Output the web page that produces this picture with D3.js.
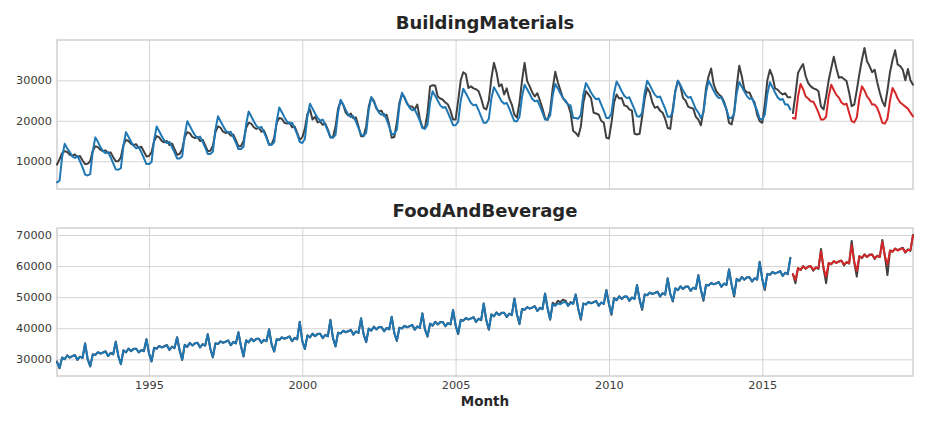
<!DOCTYPE html>
<html><head><meta charset="utf-8">
<script src="https://cdn.jsdelivr.net/npm/d3@7"></script>
<style>body{margin:0;background:#fff}svg{display:block}</style>
</head><body><svg id="c" width="929" height="433"></svg>
<script>
// Monthly data, Jan..Dec for each year from 1992 to 2019
const startYear = 1992;
const trainYears = 24; // 1992-2015 training, 2016-2019 test
const xTickYears = [1995, 2000, 2005, 2010, 2015];
const bmTicks = [10000, 20000, 30000];
const fbTicks = [30000, 40000, 50000, 60000, 70000];

const bmActual = [
[9200,10500,12000,12500,12300,11600,11400,11700,11000,11300,10200,9300],
[9400,10000,12600,13700,13500,12800,12500,12700,12000,12200,11000,10000],
[10000,11000,14000,15300,15000,14300,14000,14200,13300,13600,12400,11200],
[11300,12200,15000,16200,15900,15000,14700,15000,14000,14400,13000,11600],
[11800,13000,16000,17200,16900,16000,15700,16000,15000,15300,14000,12500],
[12600,13800,17200,18600,18300,17300,17000,17200,16300,16600,15200,13700],
[13700,15000,18200,19500,19300,18400,18000,18300,17300,17600,16000,14100],
[14200,15800,19600,20700,20500,19500,19300,19600,18400,18600,17000,15300],
[15900,18000,21700,22800,20300,21000,19600,19800,19000,19300,17800,15900],
[16000,18500,23000,24800,24000,22000,21300,21800,20600,20800,18600,16200],
[16200,18600,23500,25800,25000,23000,22300,22500,21200,21500,19000,15800],
[16000,19500,24500,26500,25800,24200,23500,23500,22800,24000,20500,18400],
[18200,22000,28500,28800,28700,26000,25500,25200,24500,24000,22500,20300],
[20300,25000,30000,32000,31500,28100,28500,28000,27800,27300,25500,23200],
[22800,25000,30500,34300,32000,28500,29000,26500,28000,25500,24000,21500],
[20800,24500,30000,34300,29800,28500,27000,26000,26800,25000,23000,20700],
[20200,22500,28000,32100,29500,27500,25600,24800,24000,22000,17500,17000],
[16200,18500,24500,27300,26500,25600,22000,21800,21500,20000,19500,15800],
[15600,19500,24500,26500,25500,25600,23800,23600,22800,22500,16800,16600],
[16800,21000,25500,28100,27000,24500,23200,23500,22500,22000,20500,18200],
[18000,23000,27500,29900,28500,25600,25000,23500,23200,23000,21000,20300],
[18900,22500,28000,31000,32900,29000,27300,26500,26000,24800,22800,19500],
[19100,22000,28500,33600,31000,27700,27000,27000,25500,24500,21500,19900],
[19500,24000,30000,32600,31000,28000,27700,27000,26500,26800,25800,25800],
[21900,26500,31800,33000,34000,31000,29300,28500,28000,27800,27300,23500],
[22800,26000,30000,33000,35800,33000,30600,30800,30300,29800,27000,23600],
[24000,27500,31500,35000,38000,34700,33500,32000,32600,29500,27000,24800],
[23600,27500,32000,35000,37400,33900,33500,32600,30000,32800,30000,28900]
];

const bmFit = [
[4800,5200,11000,14300,13200,12300,11200,10800,11300,10000,8500,6700],
[6500,6800,12500,15900,14800,13500,12500,12000,12300,11000,9500,8000],
[7900,8300,13800,17200,16000,14800,13800,13200,13500,12200,10800,9300],
[9300,9800,15200,18600,17400,16200,15100,14500,14800,13500,12200,10700],
[10700,11200,16500,19900,18700,17500,16400,15800,16100,14800,13400,11800],
[11800,12400,17800,21100,19900,18700,17600,17000,17300,16000,14600,13000],
[13000,13600,19000,22300,21100,19900,18800,18200,18500,17200,15700,14100],
[14100,14700,20000,23300,22100,20900,19800,19200,19500,18200,16700,14800],
[14500,15500,21000,24200,23000,21800,20700,20000,20300,19000,17500,15900],
[15800,16500,22000,25200,24000,22700,21500,20900,21100,19800,18200,16600],
[16300,17000,22700,25800,24600,23300,22000,21500,21700,20300,18600,16600],
[16800,17800,23700,26900,25700,24400,23200,22600,22800,21500,20000,18200],
[18000,19000,24500,27300,26200,25000,23800,23200,23400,22000,20500,18900],
[18900,19800,25000,27900,26800,25600,24400,23800,24000,22600,21000,19500],
[19500,20500,25500,28300,27200,26000,24800,24200,24400,23000,21400,19900],
[19900,21000,26000,28900,27800,26600,25400,24800,25000,23600,22000,20300],
[20300,21300,26300,29100,28000,26800,25600,25000,24000,23800,20700,20700],
[20500,21500,26500,29300,28200,27000,26000,25300,25500,24000,22500,20700],
[20700,21800,26800,29700,28600,27300,26200,25600,25800,24300,22800,21100],
[21000,22000,27000,29900,28800,27500,26400,25800,26000,24500,23000,21000],
[21000,22200,27200,29900,28800,27500,26400,25700,25900,24400,22900,22000],
[20700,22000,27000,29900,28700,27400,26300,25600,25800,24300,22800,20700],
[20700,21800,26800,29600,28400,27200,26100,25400,25600,24000,22500,20500],
[20300,21500,26600,29500,28300,27000,25800,25200,25400,24000,24000,22800]
];

const bmPred = [
[20700,20500,26000,29100,27800,26000,25500,24800,24700,23500,22000,20300],
[20300,21000,26000,28900,27600,26400,25700,24500,24000,24200,22000,19900],
[19600,20800,25500,28500,27500,26000,25200,24000,24000,23200,21500,19500],
[19300,20500,25000,28100,27000,25500,24500,24000,23500,23000,22000,21100]
];

const fbActual = [
[29300,27100,30600,30000,31300,30500,31000,31400,29800,30900,30400,35200],
[30000,27700,31600,31400,32300,31800,32200,32600,31000,32100,31600,35700],
[31000,28400,32900,32200,33500,32600,33400,33400,32200,33000,32600,36500],
[31900,29300,33700,33400,34300,33800,34200,34600,33000,34100,33600,37100],
[32800,29800,34700,34000,35300,34400,35200,35300,33800,34900,34400,38100],
[33400,30600,35200,34900,35800,35300,35700,36100,34500,35600,35100,38700],
[34200,30900,36100,35400,36700,35800,36600,36600,35300,36300,35800,39700],
[34700,32500,36500,36200,37100,36600,37000,37400,35800,36900,36400,42100],
[35800,33300,37700,37000,38300,37400,38200,38200,36800,37900,37400,42700],
[36800,34100,38600,38300,39200,38700,39100,39500,37900,39000,38500,43200],
[38000,35500,39900,39200,40500,39600,40400,40400,39000,40100,39600,43700],
[38400,35900,40200,39900,40800,40300,40700,41100,39500,40600,40100,44800],
[39600,37300,41500,40800,42100,41200,42000,42000,40600,41700,41200,45900],
[40900,38100,42700,42400,43300,42800,43200,43600,42000,43100,42600,48000],
[42600,39500,44500,43800,45100,44200,45000,45000,43600,44700,44200,49600],
[44400,41300,46200,45900,46800,46300,46700,47100,45500,46600,46100,51200],
[46300,42700,48200,47500,48800,48400,49200,48900,47300,48400,47900,50900],
[46100,42700,48000,47600,48500,48000,48400,48800,47200,48300,47800,52300],
[47800,44300,49700,49000,50300,49400,50200,50200,48800,49900,49400,53900],
[49100,45900,50900,50600,51500,51000,51400,51800,50200,51300,50800,56100],
[51000,48600,52900,52200,53500,52600,53400,53400,52000,53100,52600,57100],
[52200,48800,54000,53700,54600,54100,54500,54900,53300,54400,53900,59000],
[54000,50200,55900,55200,56500,55600,56400,56400,55000,56100,55600,61400],
[55700,52300,57500,57200,58100,57600,58000,58400,56800,57900,57400,62700],
[57400,54500,59400,58700,60000,59100,59900,59900,58500,59600,59100,65500],
[59100,54500,60900,60600,61500,61000,61400,61800,60200,61300,60800,68100],
[61300,56600,63200,62500,63800,62900,63700,63700,62300,63400,62900,68400],
[63200,57100,65000,64700,65600,65100,65500,65900,64300,65400,64900,70000]
];

const fbFit = [
[29000,27300,30500,30100,31200,30600,31000,31300,29900,30800,30500,35000],
[30100,27800,31500,31500,32200,31900,32100,32500,31100,32000,31700,35600],
[31100,28500,32800,32300,33400,32700,33300,33400,32300,32900,32700,36400],
[32000,29400,33600,33500,34200,33900,34100,34500,33100,34000,33700,37000],
[32900,29900,34600,34100,35200,34500,35100,35300,33900,34800,34500,38000],
[33500,30700,35100,35000,35700,35400,35600,36000,34600,35500,35200,38600],
[34300,31000,36000,35500,36600,35900,36500,36600,35400,36200,35900,39600],
[34800,32600,36400,36300,37000,36700,36900,37300,35900,36800,36500,42000],
[35900,33400,37600,37100,38200,37500,38100,38200,36900,37800,37500,42600],
[36900,34200,38500,38400,39100,38800,39000,39400,38000,38900,38600,43100],
[38100,35600,39800,39300,40400,39700,40300,40400,39100,40000,39700,43600],
[38500,36000,40100,40000,40700,40400,40600,41000,39600,40500,40200,44700],
[39700,37400,41400,40900,42000,41300,41900,42000,40700,41600,41300,45800],
[41000,38300,42600,42500,43200,42900,43100,43500,42100,43000,42700,47900],
[42700,39700,44400,43900,45000,44300,44900,45000,43700,44600,44300,49500],
[44500,41500,46100,46000,46700,46400,46600,47000,45600,46500,46200,51100],
[46400,43000,47700,47200,48000,47700,48300,48500,47200,48100,47900,50800],
[46300,43100,47900,47700,48400,48100,48300,48700,47300,48200,47900,52200],
[47900,44700,49600,49100,50200,49500,50100,50200,48900,49800,49500,53800],
[49300,46300,50800,50700,51400,51100,51300,51700,50300,51200,50900,55900],
[51100,48900,52800,52300,53400,52700,53300,53400,52100,53000,52700,57000],
[52400,49300,53900,53800,54500,54200,54400,54800,53400,54300,54000,58800],
[54100,50700,55800,55300,56400,55700,56300,56400,55100,56000,55700,61200],
[55900,52800,57400,57300,58000,57700,57900,58300,56900,57800,57500,62500]
];

const fbPred = [
[57400,55500,59300,58800,59900,59200,59800,60000,58800,59500,59400,64800],
[59400,56500,61000,60600,61600,61000,61500,61700,60500,61200,61000,66800],
[61300,58500,63100,62700,63600,63000,63500,63700,62500,63200,63000,67800],
[63200,60500,65000,64600,65600,65000,65500,65700,64500,65200,65200,69800]
];

const panels = [
  {title: "BuildingMaterials", top: 40, bottom: 189, domain: [3150, 39950], ticks: bmTicks,
   actual: bmActual.flat(), fit: bmFit.flat(), pred: bmPred.flat(), titleY: 29, showX: false},
  {title: "FoodAndBeverage", top: 228, bottom: 376, domain: [24630, 72250], ticks: fbTicks,
   actual: fbActual.flat(), fit: fbFit.flat(), pred: fbPred.flat(), titleY: 217, showX: true}
];

const L = 57, R = 913;
const nMonths = panels[0].actual.length;
const x = d3.scaleLinear().domain([0, nMonths - 1]).range([L, R]);
const xTickIdx = xTickYears.map(y => (y - startYear) * 12);

const svg = d3.select("#c");
svg.append("rect").attr("width", 929).attr("height", 433).attr("fill", "#fff");

const FONT = "DejaVu Sans, sans-serif";
const gridColor = "#d4d4d4";
const tickColor = "#3a3a3a";

panels.forEach(p => {
  const y = d3.scaleLinear().domain(p.domain).range([p.bottom, p.top]);
  const g = svg.append("g");

  // horizontal grid + y labels
  const ya = g.append("g").attr("transform", `translate(${L},0)`)
    .call(d3.axisLeft(y).tickValues(p.ticks).tickSize(-(R - L)).tickPadding(5).tickFormat(d3.format("d")));
  ya.select(".domain").remove();
  ya.selectAll("line").attr("stroke", gridColor).attr("stroke-width", 1);
  ya.selectAll("text").attr("fill", tickColor).style("font-family", FONT).style("font-size", "11.3px");

  // vertical grid
  const xa = g.append("g").attr("transform", `translate(0,${p.bottom})`)
    .call(d3.axisBottom(x).tickValues(xTickIdx).tickSize(-(p.bottom - p.top)).tickPadding(5)
      .tickFormat((d, i) => p.showX ? String(xTickYears[i]) : ""));
  xa.select(".domain").remove();
  xa.selectAll("line").attr("stroke", gridColor).attr("stroke-width", 1);
  xa.selectAll("text").attr("fill", tickColor).style("font-family", FONT).style("font-size", "11.3px");

  // frame
  g.append("rect").attr("x", L).attr("y", p.top).attr("width", R - L).attr("height", p.bottom - p.top)
    .attr("fill", "none").attr("stroke", "#d0d0d0").attr("stroke-width", 1.5);

  const nTrain = trainYears * 12;
  const pts = (arr, off) => arr.map((v, i) => [i + off, v]);
  const line = d3.line().x(d => x(d[0])).y(d => y(d[1]));
  const draw = (data, color) => g.append("path").datum(data).attr("d", line)
    .attr("fill", "none").attr("stroke", color).attr("stroke-width", 2)
    .attr("stroke-linejoin", "round").attr("stroke-linecap", "round");

  draw(pts(p.actual.slice(0, nTrain), 0), "#404040");
  draw(pts(p.actual.slice(nTrain), nTrain), "#404040");
  draw(pts(p.fit, 0), "#1f77b4");
  draw(pts(p.pred, nTrain), "#d62728");

  g.append("text").attr("x", (L + R) / 2).attr("y", p.titleY).attr("text-anchor", "middle")
    .attr("fill", "#262626").style("font-family", FONT).style("font-weight", "bold").style("font-size", "18px")
    .text(p.title);
});

svg.append("text").attr("x", (L + R) / 2).attr("y", 406).attr("text-anchor", "middle")
  .attr("fill", "#262626").style("font-family", FONT).style("font-weight", "bold").style("font-size", "13.5px")
  .text("Month");
</script></body></html>
